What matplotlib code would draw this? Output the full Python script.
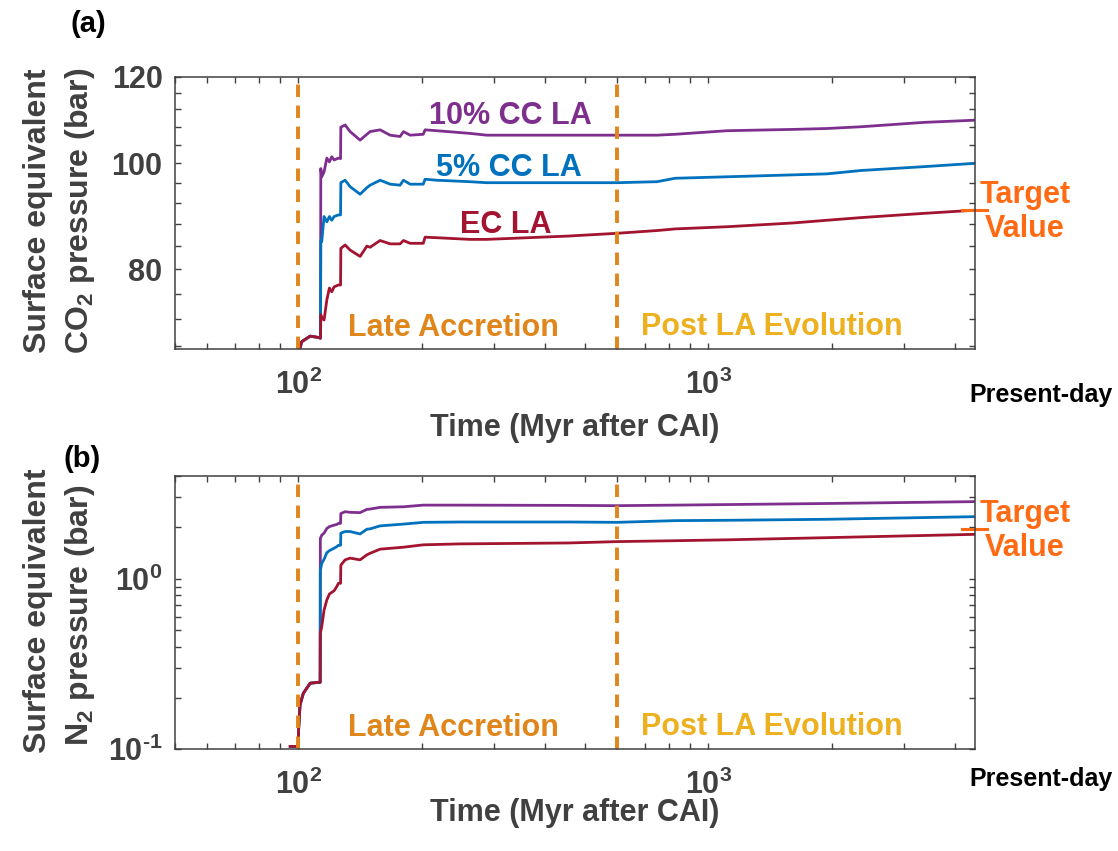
import numpy as np
import matplotlib
matplotlib.use("Agg")
import matplotlib.pyplot as plt
from matplotlib.ticker import FixedLocator, FixedFormatter, NullFormatter, LogLocator

plt.rcParams['font.family'] = ['Liberation Sans', 'DejaVu Sans']
plt.rcParams['font.weight'] = 'bold'
plt.rcParams['axes.labelweight'] = 'bold'
plt.rcParams['mathtext.fontset'] = 'custom'
plt.rcParams['mathtext.rm'] = 'Liberation Sans:bold'
plt.rcParams['mathtext.it'] = 'Liberation Sans:bold'
plt.rcParams['mathtext.bf'] = 'Liberation Sans:bold'
plt.rcParams['mathtext.sf'] = 'Liberation Sans:bold'
plt.rcParams['axes.unicode_minus'] = False

# colours (MATLAB-like)
c_purple = '#7E2F8E'
c_blue = '#0072BD'
c_red = '#A2142F'
c_dash = '#E0861A'
c_post = '#EDB120'
c_target = '#FF6A13'
c_axis = '#404040'

# ---- (a) CO2, time in Myr after CAI
t_co2 = [100.0, 101.9, 106.8, 112.0, 113.2, 113.4, 114.0, 115.5, 117.3, 119.0, 120.6,
         122.2, 125.2, 126.7, 126.9, 130.0, 133.7, 141.4, 146.9, 149.6, 158.2, 167.4,
         177.0, 180.4, 187.3, 201.6, 203.7, 217.6, 262.0, 287.9, 455.8, 599, 749,
         829.5, 1110, 1611, 1945, 2359, 3357, 4471]
co2_10cc = [67.0, 68.7, 69.5, 69.3, 69.2, 98.9, 97.2, 98.2, 101.1, 100.3, 101.4,
            100.7, 101.1, 101.0, 107.9, 108.4, 106.9, 105.0, 106.3, 106.9, 107.3, 106.1,
            105.8, 106.9, 106.1, 106.3, 107.3, 107.1, 106.5, 106.1, 106.1, 106.1, 106.1,
            106.3, 107.1, 107.4, 107.6, 108.0, 109.0, 109.5]
co2_5cc = [67.0, 68.7, 69.5, 69.3, 69.2, 85.0, 84.8, 89.4, 88.4, 89.4, 88.7,
           89.4, 89.7, 89.7, 96.0, 96.5, 95.2, 93.7, 95.0, 95.5, 96.5, 95.7,
           95.5, 96.5, 95.7, 95.7, 96.7, 96.5, 96.2, 96.0, 96.0, 96.0, 96.2,
           96.9, 97.2, 97.6, 97.8, 98.5, 99.3, 100.0]
co2_ec = [67.0, 68.7, 69.5, 69.3, 69.2, 72.7, 72.2, 71.9, 75.0, 76.9, 76.3,
          77.1, 77.4, 77.4, 83.6, 84.2, 83.3, 82.2, 84.0, 83.8, 85.0, 84.4,
          84.4, 85.0, 84.5, 84.5, 85.6, 85.5, 85.2, 85.2, 85.8, 86.3, 86.8,
          87.1, 87.5, 88.2, 88.7, 89.2, 90.0, 90.6]
target_co2 = 90.6

# ---- (b) N2
t_n2 = [95.5, 99.9, 100.1, 100.9, 102.8, 106.8, 112.0, 113.0, 113.1, 114.0, 115.5,
        117.3, 119.0, 122.2, 124.0, 125.2, 126.7, 126.9, 130.0, 133.7, 141.4, 146.9,
        149.6, 158.2, 180.4, 201.6, 247.7, 455.8, 599, 829.5, 1110, 1945, 4471]
n2_10cc = [0.104, 0.104, 0.13, 0.182, 0.213, 0.244, 0.247, 0.247, 1.72, 1.80, 1.85,
           1.97, 2.02, 2.06, 2.08, 2.11, 2.11, 2.41, 2.47, 2.45, 2.44, 2.55,
           2.56, 2.62, 2.64, 2.70, 2.70, 2.69, 2.68, 2.70, 2.72, 2.76, 2.83]
n2_5cc = [0.104, 0.104, 0.13, 0.182, 0.213, 0.244, 0.247, 0.247, 1.12, 1.23, 1.30,
          1.42, 1.46, 1.51, 1.54, 1.57, 1.57, 1.85, 1.89, 1.89, 1.83, 1.95,
          1.96, 2.04, 2.09, 2.14, 2.15, 2.15, 2.14, 2.19, 2.20, 2.23, 2.31]
n2_ec = [0.104, 0.104, 0.13, 0.182, 0.213, 0.244, 0.247, 0.247, 0.479, 0.523, 0.655,
         0.750, 0.813, 0.85, 0.898, 0.94, 0.94, 1.20, 1.29, 1.32, 1.29, 1.38,
         1.41, 1.49, 1.53, 1.58, 1.60, 1.62, 1.65, 1.67, 1.69, 1.74, 1.82]
target_n2 = 1.95

t_la_start = 100
t_la_end = 600
xlim = (50, 4470)

W, H = 1118, 851
fig = plt.figure(figsize=(W / 100, H / 100), dpi=100)


def fx(x):
    return x / W


def fy(y):
    return 1 - y / H


ax1 = fig.add_axes([fx(175), fy(349.3), 800 / W, (349.3 - 76.7) / H])
ax2 = fig.add_axes([fx(175), fy(749.3), 800 / W, (749.3 - 476) / H])


def style(ax):
    ax.set_xscale('log')
    ax.set_yscale('log')
    ax.set_xlim(*xlim)
    ax.xaxis.set_major_locator(FixedLocator([100, 1000]))
    ax.xaxis.set_major_formatter(FixedFormatter(['$10^{2}$', '$10^{3}$']))
    ax.xaxis.set_minor_locator(LogLocator(base=10, subs=np.arange(2, 10)))
    ax.xaxis.set_minor_formatter(NullFormatter())
    ax.tick_params(which='both', direction='in', top=True, right=True,
                   length=4.5, width=1.0, colors=c_axis, labelsize=22,
                   labelcolor=c_axis)
    ax.tick_params(axis='x', pad=15)
    ax.tick_params(axis='y', pad=9)
    for s in ax.spines.values():
        s.set_color(c_axis)
        s.set_linewidth(1.1)


# panel (a)
ax1.plot(t_co2, co2_10cc, color=c_purple, lw=2.0)
ax1.plot(t_co2, co2_5cc, color=c_blue, lw=2.0)
ax1.plot(t_co2, co2_ec, color=c_red, lw=2.0)
style(ax1)
ax1.set_ylim(67.6, 120)
ax1.yaxis.set_major_locator(FixedLocator([80, 100, 120]))
ax1.yaxis.set_major_formatter(FixedFormatter(['80', '100', '120']))
ax1.yaxis.set_minor_locator(FixedLocator([68, 72, 76, 84, 88, 92, 96, 104, 108, 112, 116]))
ax1.yaxis.set_minor_formatter(NullFormatter())

# panel (b)
ax2.plot(t_n2, n2_10cc, color=c_purple, lw=2.0)
ax2.plot(t_n2, n2_5cc, color=c_blue, lw=2.0)
ax2.plot(t_n2, n2_ec, color=c_red, lw=2.0)
style(ax2)
ax2.set_ylim(0.1, 4)
ax2.yaxis.set_major_locator(FixedLocator([0.1, 1]))
ax2.yaxis.set_major_formatter(FixedFormatter(['$10^{\\text{-}1}$', '$10^{0}$']))
ax2.yaxis.set_minor_locator(LogLocator(base=10, subs=np.arange(2, 10)))
ax2.yaxis.set_minor_formatter(NullFormatter())

for ax, target in [(ax1, target_co2), (ax2, target_n2)]:
    ax.axvline(t_la_start, color=c_dash, lw=2.8, dashes=(3.2, 2.2))
    ax.axvline(t_la_end, color=c_dash, lw=2.8, dashes=(3.2, 2.2))
    # target value marker sticking out of the right edge
    ax.plot([4150, 4780], [target, target], color=c_target, lw=2.2, clip_on=False)
    ax.set_xlabel('Time (Myr after CAI)', fontsize=22, color=c_axis)

ax1.xaxis.set_label_coords(0.5, -0.235)
ax2.xaxis.set_label_coords(0.5, -0.18)

# text annotations
fig.text(fx(453), fy(327.5), 'Late Accretion', color=c_dash, fontsize=22,
         ha='center', va='center')
fig.text(fx(772), fy(327), 'Post LA Evolution', color=c_post, fontsize=22,
         ha='center', va='center')
fig.text(fx(453), fy(727.5), 'Late Accretion', color=c_dash, fontsize=22,
         ha='center', va='center')
fig.text(fx(772), fy(727), 'Post LA Evolution', color=c_post, fontsize=22,
         ha='center', va='center')

fig.text(fx(510), fy(116), '10% CC LA', color=c_purple, fontsize=22, ha='center', va='center')
fig.text(fx(509), fy(168), '5% CC LA', color=c_blue, fontsize=22, ha='center', va='center')
fig.text(fx(506), fy(225), 'EC LA', color=c_red, fontsize=22, ha='center', va='center')

for yc in (212, 531):
    fig.text(fx(1025), fy(yc), 'Target\nValue', color=c_target, fontsize=22,
             ha='center', va='center', linespacing=1.2)

for yc in (395, 779):
    fig.text(fx(1113), fy(yc), 'Present-day', color='black', fontsize=18,
             ha='right', va='center')

fig.text(fx(88), fy(24), '(a)', color='black', fontsize=21, ha='center', va='center')
fig.text(fx(82), fy(459), '(b)', color='black', fontsize=21, ha='center', va='center')

fig.text(fx(38), fy(211), 'Surface equivalent', color=c_axis, fontsize=23,
         rotation=90, ha='center', va='center')
fig.text(fx(80), fy(211), 'CO$_2$ pressure (bar)', color=c_axis, fontsize=23,
         rotation=90, ha='center', va='center')
fig.text(fx(38), fy(611), 'Surface equivalent', color=c_axis, fontsize=23,
         rotation=90, ha='center', va='center')
fig.text(fx(80), fy(615), 'N$_2$ pressure (bar)', color=c_axis, fontsize=23,
         rotation=90, ha='center', va='center')

fig.savefig('out.png', dpi=100)
